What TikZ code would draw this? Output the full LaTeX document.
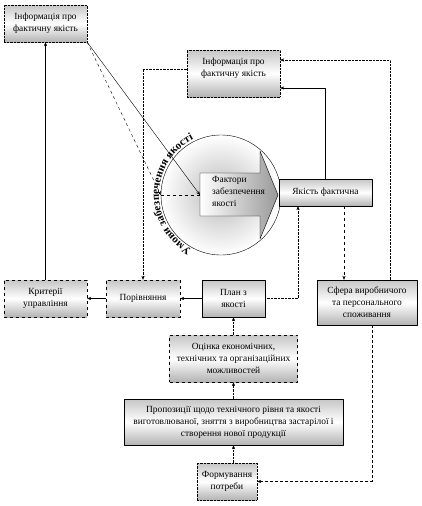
\documentclass[tikz,border=0pt]{standalone}
\usepackage{fontspec}
\setmainfont{Liberation Serif}
\usetikzlibrary{arrows.meta,decorations.text}
\tikzset{
  every picture/.style={
    font=\fontsize{9.4}{12}\selectfont,
    line join=round,
    >={Stealth[length=4pt,width=3.2pt]},
  },
  box/.style={draw, thin, inner sep=1pt, align=center,
    top color=gray!45, bottom color=gray!60, middle color=white},
  dotbox/.style={box, densely dotted},
  dashbox/.style={box, dashed},
  link/.style={->, thin},
  dotlink/.style={->, thin, densely dotted},
  dashlink/.style={->, thin, dashed},
}
\begin{document}
\begin{tikzpicture}[x=1pt,y=-1pt]
\useasboundingbox (0,0) rectangle (422,506);
% circle with the arrow
\node[circle, draw, thin, minimum size=120pt, inner color=gray!55, outer color=white] (circ) at (221,195) {};
\shade[draw, thin, left color=white, right color=gray!80]
  (200,173)--(260,173)--(260,151)--(278,195)--(260,239)--(260,216)--(200,216)--cycle;
\coordinate (fin) at (200,195);
\node[anchor=west, align=left, inner sep=0pt] (fakt) at (212,191) {Фактори\\забезпечення\\якості};
\begin{scope}[y=1pt]
\path[decorate, decoration={text along path, text align=center,
  text={|\bfseries\fontsize{11}{11}\selectfont|Умови забезпечення якості}}]
  (221,-195) ++(247:62) arc[start angle=247, end angle=111, radius=62];
\end{scope}
% boxes
\node[dotbox, minimum width=83pt, minimum height=37pt] (infa) at (45.5,23.5) {Інформація про\\фактичну якість};
\node[dotbox, minimum width=93pt, minimum height=47pt] (infb) at (233.5,73.5) {Інформація про\\фактичну якість\\~};
\node[box, minimum width=93pt, minimum height=27pt] (yakist) at (325.5,192.5) {Якість фактична};
\node[dashbox, minimum width=83pt, minimum height=37pt] (krit) at (45.5,298.5) {Критерії\\управління};
\node[dashbox, minimum width=74pt, minimum height=37pt] (porivn) at (143,298.5) {Порівняння};
\node[box, minimum width=63pt, minimum height=37pt] (plan) at (233.5,298.5) {План з\\якості};
\node[box, minimum width=100pt, minimum height=45pt] (sfera) at (367,302.5) {Сфера виробничого\\та персонального\\споживання};
\node[dashbox, minimum width=128pt, minimum height=47pt] (otsinka) at (233.5,358.5) {Оцінка економічних,\\технічних та організаційних\\можливостей};
\node[box, minimum width=219pt, minimum height=46pt] (propoz) at (233.5,422) {Пропозиції щодо технічного рівня та якості\\виготовлюваної, зняття з виробництва застарілої і\\створення нової продукції};
\node[dotbox, minimum width=60pt, minimum height=37pt] (formuv) at (227,481.5) {Формування\\потреби};
% connectors
\draw[link] (krit.north) -- (infa.south);
\draw[link] (plan.west) -- (porivn.east);
\draw[link] (porivn.west) -- (krit.east);
\draw[dotlink] ([yshift=4.5pt]infb.west) -| (porivn.north);
\draw[dotlink] ([xshift=23pt]sfera.north) |- ([yshift=13.5pt]infb.east);
\draw[link] ([xshift=-0.5pt]yakist.north) |- ([yshift=-14.5pt]infb.east);
\draw[dotlink] (plan.east) -| ([xshift=-27.5pt]yakist.south);
\draw[dashlink] ([xshift=18.5pt]yakist.south) coordinate (q) -- (q |- sfera.north);
\draw[dotlink] (otsinka.north) -- (plan.south);
\draw[dotlink] (propoz.north) -- (otsinka.south);
\draw[dotlink] (formuv.north -| propoz.south) -- (propoz.south);
\draw[->, thin, densely dashed] ([xshift=5pt]sfera.south) |- (formuv.east);
\draw[dashlink] (infa.south east) -- (circ.west);
\draw[link] (infa.south east) -- (fin);
\draw[thin, dashed] (circ.west) -- (fin);
\end{tikzpicture}
\end{document}
